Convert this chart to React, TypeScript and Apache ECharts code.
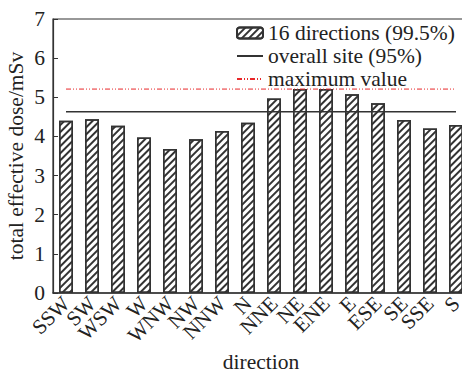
import React, { useEffect, useRef } from "react";
import * as echarts from "echarts";

const directions = ["SSW", "SW", "WSW", "W", "WNW", "NW", "NNW", "N", "NNE", "NE", "ENE", "E", "ESE", "SE", "SSE", "S"];
const doseValues = [4.4, 4.44, 4.27, 3.97, 3.68, 3.93, 4.14, 4.35, 4.97, 5.21, 5.21, 5.08, 4.85, 4.42, 4.2, 4.29];
const overallSite = 4.63;
const maximumValue = 5.21;
const yTicks = [0, 1, 2, 3, 4, 5, 6, 7];

const FONT = "'Liberation Serif', 'Times New Roman', serif";

export default function App() {
  const ref = useRef<HTMLDivElement>(null);
  useEffect(() => {
    if (!ref.current) return;
    const chart = echarts.init(ref.current, undefined, { renderer: "svg" });
    const first = directions[0];
    const last = directions[directions.length - 1];
    chart.setOption({
      animation: false,
      backgroundColor: "#fff",
      textStyle: { fontFamily: FONT, color: "#222" },
      grid: {
        left: 53,
        top: 19,
        width: 416,
        height: 274,
        containLabel: false,
        outerBoundsMode: "none",
        show: true,
        borderColor: "#333",
        borderWidth: 1.2,
        backgroundColor: "transparent",
      },
      legend: {
        left: 236,
        top: 22,
        padding: 0,
        orient: "vertical",
        itemWidth: 26,
        itemHeight: 11,
        itemGap: 1,
        textStyle: { fontFamily: FONT, fontSize: 21.5, color: "#222" },
        data: [
          { name: "16 directions (99.5%)" },
          { name: "overall site (95%)", itemStyle: { opacity: 0 } },
          { name: "maximum value", itemStyle: { opacity: 0 } },
        ],
      },
      xAxis: {
        type: "category",
        data: directions,
        name: "direction",
        nameLocation: "middle",
        nameMoveOverlap: false,
        nameGap: 58,
        nameTextStyle: { fontFamily: FONT, fontSize: 21.5, color: "#222" },
        axisLine: { lineStyle: { color: "#333", width: 1.5 } },
        axisTick: { inside: true, alignWithLabel: true, length: 4, lineStyle: { color: "#333" } },
        axisLabel: { rotate: 45, fontFamily: FONT, fontSize: 21, color: "#222", margin: 7, interval: 0 },
      },
      yAxis: {
        type: "value",
        min: yTicks[0],
        max: yTicks[yTicks.length - 1],
        interval: 1,
        name: "total effective dose/mSv",
        nameLocation: "middle",
        nameMoveOverlap: false,
        nameGap: 26,
        nameTextStyle: { fontFamily: FONT, fontSize: 21.5, color: "#222" },
        axisLine: { show: true, lineStyle: { color: "#333", width: 1.2 } },
        axisTick: { show: true, inside: true, length: 5, lineStyle: { color: "#333" } },
        axisLabel: { fontFamily: FONT, fontSize: 21.5, color: "#222", margin: 8 },
        splitLine: { show: false },
      },
      series: [
        {
          name: "16 directions (99.5%)",
          type: "bar",
          data: doseValues,
          barWidth: 14,
          itemStyle: {
            color: "#fff",
            borderColor: "#333",
            borderWidth: 1.5,
            decal: {
              symbol: "rect",
              symbolSize: 1,
              color: "#333",
              dashArrayX: [1, 0],
              dashArrayY: [1.4, 2.6],
              rotation: -Math.PI / 4,
            },
          },
        },
        {
          name: "overall site (95%)",
          type: "line",
          symbol: "none",
          data: [[first, overallSite], [last, overallSite]],
          lineStyle: { color: "#333", width: 1.3 },
          itemStyle: { color: "#333" },
        },
        {
          name: "maximum value",
          type: "line",
          symbol: "none",
          data: [[first, maximumValue], [last, maximumValue]],
          lineStyle: { color: "#e8282a", width: 1, type: [5, 2, 1, 2, 1, 2] },
          itemStyle: { color: "#e8282a" },
        },
      ],
    });
    return () => chart.dispose();
  }, []);
  return (
    <div style={{ position: "fixed", left: 0, top: 0, width: 462, height: 371, overflow: "hidden", background: "#fff" }}>
      <div ref={ref} style={{ width: 480, height: 371 }} />
    </div>
  );
}
